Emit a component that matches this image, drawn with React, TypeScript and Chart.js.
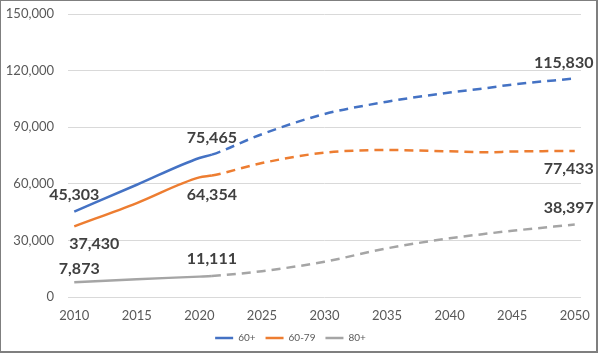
import React, { useEffect, useRef } from "react";
import { Chart, registerables } from "chart.js";

Chart.register(...registerables);

const years = [2010, 2015, 2020, 2021, 2025, 2030, 2035, 2040, 2043, 2045, 2050];
const seriesNames = ["60+", "60-79", "80+"];
const total60 = [45303, 59500, 73700, 75465, 86300, 97000, 103500, 108400, 110800, 112600, 115830];
const age6079 = [37430, 49800, 63400, 64354, 71000, 76500, 77900, 77200, 76700, 77100, 77433];
const age80 = [7873, 9450, 10800, 11111, 13700, 18700, 25800, 31100, 33600, 35100, 38397];
const xTicks = [2010, 2015, 2020, 2025, 2030, 2035, 2040, 2045, 2050];
const yTicks = [0, 30000, 60000, 90000, 120000, 150000];
const projectionStart = 2021;

const colors = ["#4472C4", "#ED7D31", "#A5A5A5"];

// annotated points: series index, year, label offset
const labelSpecs = [
  { s: 0, year: 2010, dx: 0, dy: -17 },
  { s: 1, year: 2010, dx: 20, dy: 17 },
  { s: 2, year: 2010, dx: 5, dy: -13 },
  { s: 0, year: 2021, dx: 0, dy: -17 },
  { s: 1, year: 2021, dx: 0, dy: 19 },
  { s: 2, year: 2021, dx: 0, dy: -17 },
  { s: 0, year: 2050, dx: -11, dy: -16 },
  { s: 1, year: 2050, dx: -6, dy: 18 },
  { s: 2, year: 2050, dx: -6, dy: -17 },
];

const fmt = (v: number) => v.toLocaleString("en-US");

export default function App() {
  const ref = useRef<HTMLCanvasElement | null>(null);
  useEffect(() => {
    const all = [total60, age6079, age80];
    const labelPlugin = {
      id: "valueLabels",
      afterDatasetsDraw(chart: any) {
        const ctx = chart.ctx;
        ctx.save();
        ctx.font = "bold 16px Lato";
        ctx.fillStyle = "#404040";
        ctx.textAlign = "center";
        ctx.textBaseline = "middle";
        for (const l of labelSpecs) {
          const idx = years.indexOf(l.year);
          const el = chart.getDatasetMeta(l.s).data[idx];
          ctx.fillText(fmt(all[l.s][idx]), el.x + l.dx, el.y + l.dy);
        }
        ctx.restore();
      },
    };
    const chart = new Chart(ref.current as HTMLCanvasElement, {
      type: "line",
      data: {
        datasets: all.map((vals, i) => ({
          label: seriesNames[i],
          data: years.map((x, j) => ({ x, y: vals[j] })),
          borderColor: colors[i],
          backgroundColor: colors[i],
          borderWidth: 2.5,
          pointRadius: 0,
          cubicInterpolationMode: "monotone" as const,
          segment: {
            borderDash: (c: any) => (c.p0.parsed.x >= projectionStart ? [9, 6] : undefined),
          },
        })),
      },
      options: {
        animation: false,
        responsive: false,
        layout: { padding: { left: 0, right: 18, top: 14, bottom: 0 } },
        scales: {
          x: {
            type: "linear",
            min: 2009.5,
            max: 2050.5,
            grid: { display: false, drawTicks: true, tickLength: 11 },
            border: { display: false },
            afterBuildTicks: (s: any) => {
              s.ticks = xTicks.map((v) => ({ value: v }));
            },
            afterFit: (s: any) => {
              s.height = 26;
            },
            ticks: {
              padding: 0,
              color: "#595959",
              font: { family: "Lato", size: 13 },
              callback: (v: any) => String(v),
            },
          },
          y: {
            min: 0,
            max: 150000,
            grid: { color: "#D9D9D9", lineWidth: 1, drawTicks: true, tickLength: 14, tickColor: "rgba(0,0,0,0)" },
            border: { display: false },
            afterBuildTicks: (s: any) => {
              s.ticks = yTicks.map((v) => ({ value: v }));
            },
            afterFit: (s: any) => {
              s.width = 68;
            },
            ticks: {
              padding: 0,
              color: "#595959",
              font: { family: "Lato", size: 13 },
              callback: (v: any) => fmt(Number(v)),
            },
          },
        },
        plugins: {
          legend: {
            position: "bottom",
            labels: {
              usePointStyle: true,
              pointStyle: "line",
              pointStyleWidth: 18,
              padding: 10,
              color: "#595959",
              font: { family: "Lato", size: 10 },
            },
          },
          tooltip: { enabled: false },
        },
      },
      plugins: [labelPlugin],
    });
    return () => chart.destroy();
  }, []);
  return (
    <div style={{ position: "fixed", left: 0, top: 0, width: 599, height: 353, background: "#fff" }}>
      <canvas ref={ref} width={599} height={353} style={{ display: "block" }} />
      <div
        style={{
          position: "absolute",
          left: 0,
          top: 0,
          width: 598,
          height: 353,
          boxSizing: "border-box",
          borderLeft: "1px solid #7f7f7f",
          borderTop: "1px solid #7f7f7f",
          borderRight: "2px solid #7f7f7f",
          borderBottom: "2px solid #7f7f7f",
          pointerEvents: "none",
        }}
      />
    </div>
  );
}
